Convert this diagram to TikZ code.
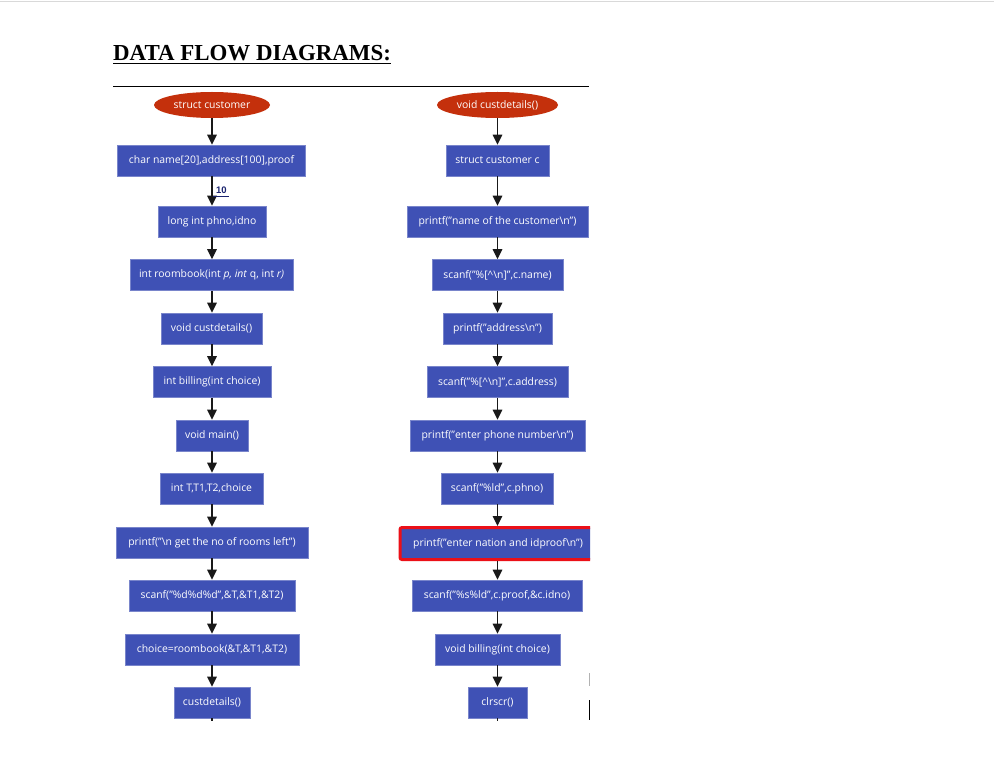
\documentclass[tikz,border=0pt]{standalone}
\usepackage{fontspec}
\setmainfont{Open Sans}
\newfontfamily\titlefont{Liberation Serif}
\newfontfamily\labfont{Liberation Sans}
\usetikzlibrary{arrows.meta,shapes.geometric}
\definecolor{boxblue}{RGB}{63,81,181}
\definecolor{ellred}{RGB}{196,48,12}
\definecolor{hired}{RGB}{235,16,24}
\definecolor{navy}{RGB}{26,35,110}
\tikzset{
  box/.style={rectangle, fill=boxblue, draw=boxblue!70!white, line width=0.6pt, text=white,
     minimum height=31pt, inner sep=0pt, font=\fontsize{10.4}{12}\selectfont},
  ell/.style={ellipse, fill=ellred, text=white, minimum height=26pt, inner sep=0pt,
     font=\fontsize{10.4}{12}\selectfont},
  arr/.style={draw=black!90, line width=1.2pt, -{Triangle[width=9.5pt,length=10pt]}},
  stub/.style={draw=black!90, line width=1.2pt},
}
\begin{document}
\begin{tikzpicture}[x=1pt,y=-1pt]
\useasboundingbox (0,0) rectangle (994,778);
\fill[white] (0,0) rectangle (994,778);
\draw[black!15, line width=1.5pt] (0,1.5) -- (994,1.5);
% title
\node[anchor=base west, inner sep=0pt, font=\titlefont\bfseries\fontsize{22.9}{26}\selectfont] (title) at (113,61) {DATA FLOW DIAGRAMS:};
\draw[line width=1.8pt] ([yshift=-2.5pt]title.base west) -- ([yshift=-2.5pt]title.base east);
\coordinate (hl1) at (113,86.5);
\coordinate (hl2) at (589,86.5);
\draw[line width=0.9pt] (hl1) -- (hl2);

% left column
\node[ell, minimum width=116pt] (l1) at (212,105) {struct customer};
\node[box, minimum width=188pt] (l2) at (211.5,160.5) {char name[20],address[100],proof};
\node[box, minimum width=108pt] (l3) at (212,221.5) {long int phno,idno};
\node[box, minimum width=163pt] (l4) at (211.5,275) {int roombook(int \textit{p, int} q, int \textit{r)}};
\node[box, minimum width=101pt] (l5) at (211.5,328.5) {void custdetails()};
\node[box, minimum width=118pt] (l6) at (212,382) {int billing(int choice)};
\node[box, minimum width=72pt] (l7) at (212,435.5) {void main()};
\node[box, minimum width=103pt] (l8) at (211.5,488.5) {int T,T1,T2,choice};
\node[box, minimum width=192pt] (l9) at (212,542.5) {printf("\textbackslash n get the no of rooms left")};
\node[box, minimum width=166pt] (l10) at (212,595.5) {scanf("\%d\%d\%d",\&T,\&T1,\&T2)};
\node[box, minimum width=174pt] (l11) at (212,649.5) {choice=roombook(\&T,\&T1,\&T2)};
\node[box, minimum width=76pt] (l12) at (212,702.5) {custdetails()};

\foreach \a/\b in {l1/l2,l2/l3,l3/l4,l4/l5,l5/l6,l6/l7,l7/l8,l8/l9,l9/l10,l10/l11,l11/l12}
  \draw[arr] (\a.south -| l1.south) -- (\b.north -| l1.south);
\coordinate (lend) at (212,721);
\draw[stub] (l12.south -| l1.south) -- (lend);

% label 10
\node[font=\labfont\bfseries\fontsize{9.5}{10}\selectfont, text=navy, inner sep=0pt, anchor=base west] (ten) at (216,193.5) {10};
\coordinate (tenl) at (213,196.5);
\coordinate (tenr) at (229,196.5);
\draw[navy, line width=0.7pt] (tenl) -- (tenr);

% right column
\node[ell, minimum width=121pt] (r1) at (497.5,105) {void custdetails()};
\node[box, minimum width=103pt] (r2) at (497.5,160.5) {struct customer c};
\node[box, minimum width=181pt] (r3) at (497.5,221.5) {printf("name of the customer\textbackslash n")};
\node[box, minimum width=131pt] (r4) at (497.5,275) {scanf("\%[\textasciicircum\textbackslash n]",c.name)};
\node[box, minimum width=109pt] (r5) at (497.5,328.5) {printf("address\textbackslash n")};
\node[box, minimum width=141pt] (r6) at (497.5,382) {scanf("\%[\textasciicircum\textbackslash n]",c.address)};
\node[box, minimum width=175pt] (r7) at (497.5,435.5) {printf("enter phone number\textbackslash n")};
\node[box, minimum width=112pt] (r8) at (497,488.5) {scanf("\%ld",c.phno)};
\begin{scope}
\clip (390,515) rectangle (590,570);
\node[box, minimum width=196pt, minimum height=32pt, draw=hired, line width=3pt, rounded corners=2pt] (r9) at (498,543.5) {printf("enter nation and idproof\textbackslash n")};
\end{scope}
\node[box, minimum width=170pt] (r10) at (497,595.5) {scanf("\%s\%ld",c.proof,\&c.idno)};
\node[box, minimum width=125pt] (r11) at (497.5,649.5) {void billing(int choice)};
\node[box, minimum width=59pt] (r12) at (497.5,702.5) {clrscr()};

\foreach \a/\b in {r1/r2,r2/r3,r3/r4,r4/r5,r5/r6,r6/r7,r7/r8,r8/r9,r9/r10,r10/r11,r11/r12}
  \draw[arr] (\a.south -| r1.south) -- (\b.north -| r1.south);
\coordinate (rend) at (497.5,721);
\draw[stub] (r12.south -| r1.south) -- (rend);

% stray marks at page edge
\coordinate (g1) at (589,673);
\coordinate (g2) at (589,686);
\draw[black!30, line width=0.8pt] (g1) -- (g2);
\coordinate (k1) at (589.5,700);
\coordinate (k2) at (589.5,720);
\draw[black, line width=1pt] (k1) -- (k2);
\end{tikzpicture}
\end{document}
